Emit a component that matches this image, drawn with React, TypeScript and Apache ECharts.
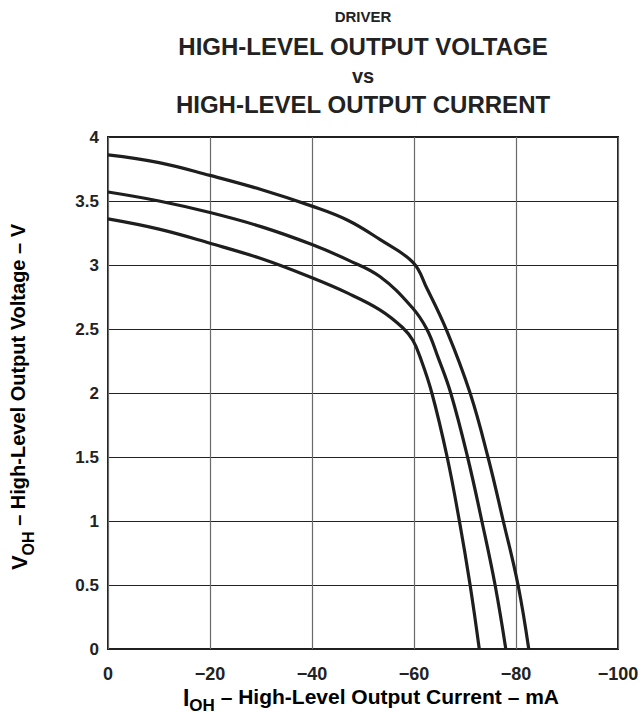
import React, { useEffect, useRef } from "react";
import * as echarts from "echarts";

// Tick labels
const xTicks = [0, -20, -40, -60, -80, -100];
const yTicks = [0, 0.5, 1, 1.5, 2, 2.5, 3, 3.5, 4];

// Curve 1 (top)
const topI = [0, -10, -20, -30, -40, -47, -53.3, -59.8, -62.5, -66.5, -71.0, -74.5, -77.5, -80.4, -82.5];
const topV = [3.86, 3.8, 3.7, 3.59, 3.46, 3.35, 3.2, 3.02, 2.82, 2.48, 2.0, 1.5, 1.0, 0.5, 0];

// Curve 2 (middle)
const midI = [0, -10, -20, -30, -40, -47, -53.3, -59.6, -62.5, -64.7, -67.2, -70.5, -73.3, -75.9, -78.0];
const midV = [3.57, 3.5, 3.41, 3.3, 3.16, 3.04, 2.91, 2.67, 2.5, 2.28, 2.0, 1.5, 1.0, 0.5, 0];

// Curve 3 (bottom)
const botI = [0, -10, -20, -30, -40, -47, -53.3, -57.8, -59.8, -61.2, -63.5, -66.5, -68.9, -71.0, -72.8];
const botV = [3.36, 3.28, 3.17, 3.05, 2.9, 2.78, 2.65, 2.51, 2.41, 2.28, 2.0, 1.5, 1.0, 0.5, 0];

const titleLines = ["DRIVER", "HIGH-LEVEL OUTPUT VOLTAGE", "vs", "HIGH-LEVEL OUTPUT CURRENT"];

const FONT = "'Liberation Sans', Arial, Helvetica, sans-serif";

const pairs = (xs: number[], ys: number[]) => xs.map((x, i) => [x, ys[i]]);

export default function App() {
  const ref = useRef<HTMLDivElement>(null);
  useEffect(() => {
    if (!ref.current) return;
    const chart = echarts.init(ref.current, undefined, { renderer: "svg" });
    const lineSeries = (data: number[][]) => ({
      type: "line",
      data,
      smooth: 0.4,
      showSymbol: false,
      symbol: "none",
      lineStyle: { color: "#1e1e1e", width: 3.2 },
      clip: true,
    });
    const rich = {
      main: { fontSize: 20, fontWeight: "bold", fontFamily: FONT, color: "#222", lineHeight: 28, verticalAlign: "top" },
      big: { fontSize: 22, fontWeight: "bold", fontFamily: FONT, color: "#222", lineHeight: 28, verticalAlign: "top" },
      sub: { fontSize: 16, fontWeight: "bold", fontFamily: FONT, color: "#222", lineHeight: 15, verticalAlign: "bottom" },
    };
    const richX = {
      main: { ...rich.main, fontSize: 21 },
      big: { ...rich.big, fontSize: 23 },
      sub: { ...rich.sub, fontSize: 17 },
    };
    const titleY = [16, 46, 76, 104];
    const titleSize = [15, 24, 20, 24];
    chart.setOption({
      animation: false,
      backgroundColor: "#ffffff",
      grid: {
        left: 108,
        top: 137,
        width: 510,
        height: 512,
        show: true,
        borderColor: "#1e1e1e",
        borderWidth: 2,
        containLabel: false,
      },
      xAxis: {
        type: "value",
        inverse: true,
        min: -100,
        max: 0,
        interval: 20,
        axisLine: { show: false },
        axisTick: { show: false },
        splitLine: { show: true, lineStyle: { color: "#6a6a6a", width: 1.2 } },
        axisLabel: {
          margin: 16,
          fontSize: 18,
          fontWeight: "bold",
          fontFamily: FONT,
          color: "#222",
          formatter: (v: number) => (v === 0 ? "0" : "\u2212" + Math.abs(v)),
        },
      },
      yAxis: {
        type: "value",
        min: 0,
        max: 4,
        interval: 0.5,
        axisLine: { show: false },
        axisTick: { show: false },
        splitLine: { show: true, lineStyle: { color: "#222", width: 1.2 } },
        axisLabel: {
          margin: 9,
          fontSize: 17,
          fontWeight: "bold",
          fontFamily: FONT,
          color: "#222",
          formatter: (v: number) => String(v),
        },
      },
      series: [
        lineSeries(pairs(topI, topV)),
        lineSeries(pairs(midI, midV)),
        lineSeries(pairs(botI, botV)),
      ],
      graphic: [
        ...titleLines.map((t, i) => ({
          type: "text",
          x: 363,
          y: titleY[i],
          style: {
            text: t,
            fontSize: titleSize[i],
            fontWeight: "bold",
            fontFamily: FONT,
            fill: "#222",
            align: "center",
            verticalAlign: "middle",
          },
        })),
        {
          type: "text",
          x: 371,
          y: 700,
          style: {
            text: "{big|I}{sub|OH}{main| \u2013 High-Level Output Current \u2013 mA}",
            rich: richX,
            align: "center",
            verticalAlign: "middle",
          },
        },
        {
          type: "text",
          x: 22,
          y: 397,
          rotation: Math.PI / 2,
          style: {
            text: "{big|V}{sub|OH}{main| \u2013 High-Level Output Voltage \u2013 V}",
            rich,
            align: "center",
            verticalAlign: "middle",
          },
        },
      ],
    });
    return () => chart.dispose();
  }, []);
  return (
    <div
      ref={ref}
      style={{ position: "absolute", left: 0, top: 0, width: 642, height: 716 }}
    />
  );
}
